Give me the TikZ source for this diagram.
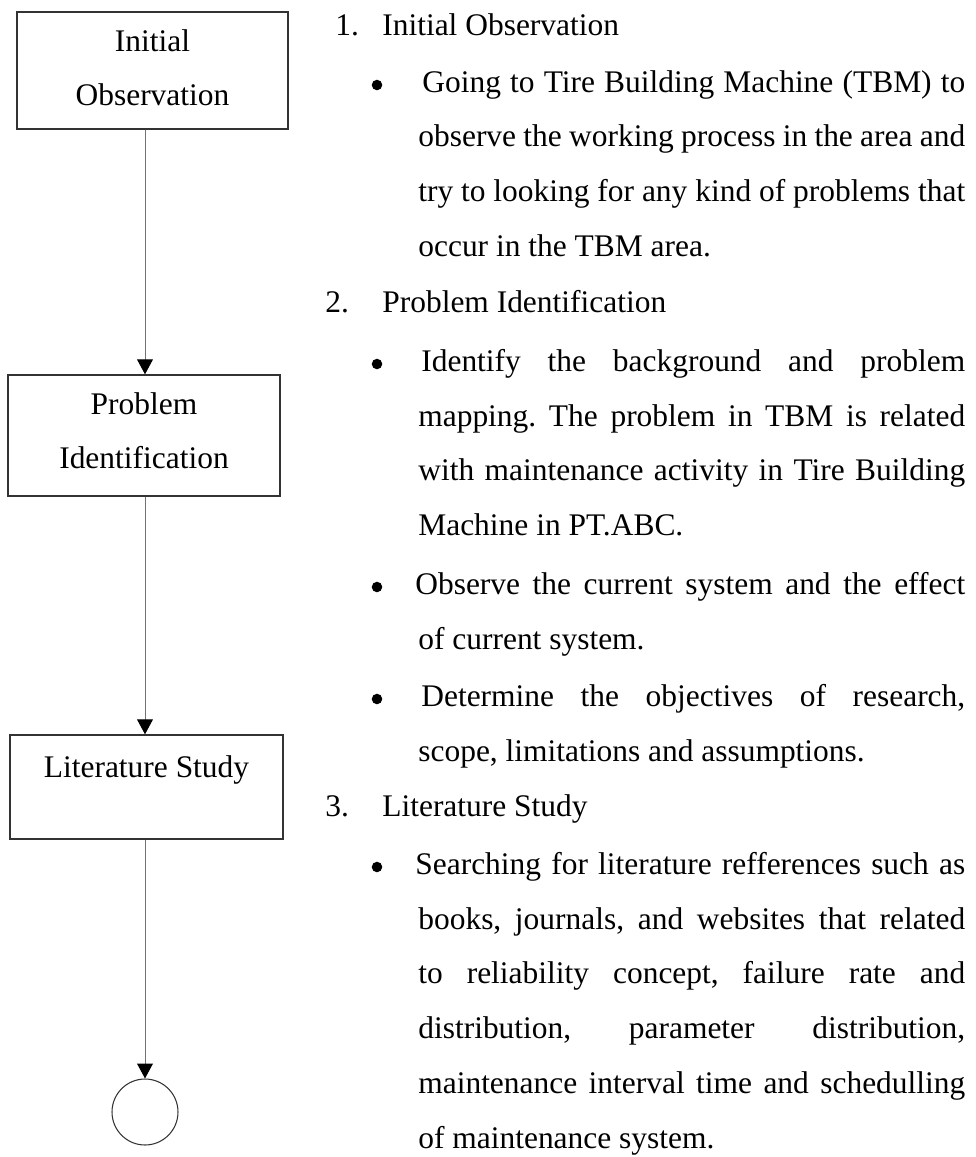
\documentclass[tikz,border=0pt]{standalone}
\usepackage{fontspec}
\setmainfont{Liberation Serif}
\usetikzlibrary{arrows.meta}
\hyphenpenalty=10000
\frenchspacing

\begin{document}
\begin{tikzpicture}[x=0.02cm, y=-0.02cm,
        every node/.style={font=\fontsize{17.9pt}{30.2pt}\selectfont},
        stepbox/.style={draw=black!80, line width=0.8pt, align=center, inner sep=0pt},
        flow/.style={draw=black!55, line width=0.55pt, -{Triangle[length=8.5pt, width=9pt, color=black]}},
        num/.style={anchor=base west, inner sep=0pt},
        dot/.style={circle, fill=black, inner sep=0pt, minimum size=6pt},
        para/.style={anchor=base west, inner sep=0pt, text width=10.94cm, align=justify,
            font=\fontsize{17.9pt}{31.3pt}\selectfont}]
        \useasboundingbox (0,0) rectangle (976,1157);
        % flow chart
        \node [stepbox, minimum width=5.42cm, minimum height=2.34cm, text height=42.4pt, text depth=3.1pt] (obs) at (152.5,70.5) {Initial\\Observation};
        \node [stepbox, minimum width=5.44cm, minimum height=2.42cm, text height=42.4pt, text depth=5.4pt] (ident) at (144,435.5) {Problem\\Identification};
        \node [stepbox, minimum width=5.46cm, minimum height=2.08cm, text height=12.2pt, text depth=22.5pt] (lit) at (146.5,787) {Literature Study};
        \node [draw=black!80, line width=0.6pt, circle, minimum size=1.32cm, inner sep=0pt] (end) at (145,1112) {};
        \draw [flow] (obs.south -| end) -- (ident.north -| end);
        \draw [flow] (ident.south -| end) -- (lit.north -| end);
        \draw [flow] (lit.south -| end) -- (end.north);
        % description
        \node [num] (n1) at (335,35) {1.};
        \node [num] (t1) at (382,35) {Initial Observation};
        \node [dot] (b1) at (377,85) {};
        \node [para] (p1) at (418,92) {\hspace*{2.3pt}Going to Tire Building Machine (TBM) to\linebreak observe the working process in the area and\linebreak try to looking for any kind of problems that\linebreak occur in the TBM area.};
        \node [num] (n2) at (325,312) {2.};
        \node [num] (t2) at (382,312) {Problem Identification};
        \node [dot] (b2) at (377,364) {};
        \node [para] (p2) at (418,371) {\hspace*{1.7pt}Identify the background and problem\linebreak mapping. The problem in TBM is related\linebreak with maintenance activity in Tire Building\linebreak Machine in PT.ABC.};
        \node [dot] (b3) at (377,587) {};
        \node [para] (p3) at (418,594) {\hspace*{-1.7pt}Observe the current system and the effect\linebreak of current system.};
        \node [dot] (b4) at (377,699) {};
        \node [para] (p4) at (418,706) {\hspace*{1.7pt}Determine the objectives of research,\linebreak scope, limitations and assumptions.};
        \node [num] (n3) at (325,816) {3.};
        \node [num] (t3) at (382,816) {Literature Study};
        \node [dot] (b5) at (377,867) {};
        \node [para] (p5) at (418,874) {\hspace*{-1.7pt}Searching for literature refferences such as\linebreak books, journals, and websites that related\linebreak to reliability concept, failure rate and\linebreak distribution, parameter distribution,\linebreak maintenance interval time and schedulling\linebreak of maintenance system.};
    \end{tikzpicture}
\end{document}
